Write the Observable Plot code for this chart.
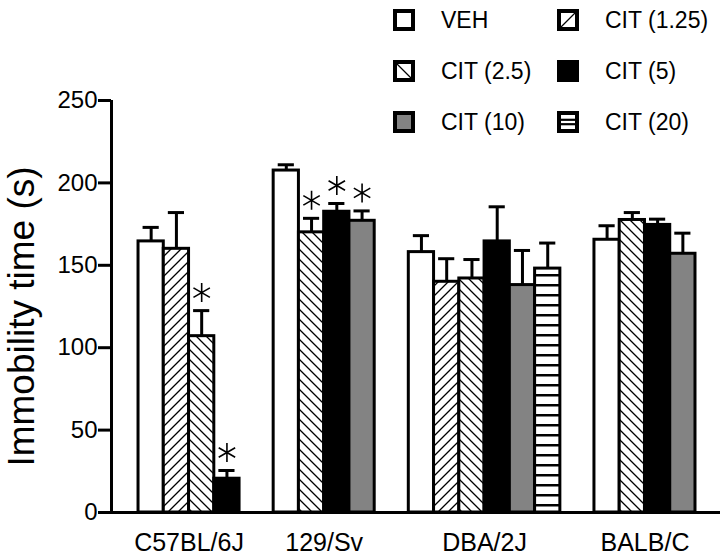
<!DOCTYPE html>
<html><head><meta charset="utf-8">
<script src="https://cdn.jsdelivr.net/npm/d3@7"></script>
<script src="https://cdn.jsdelivr.net/npm/@observablehq/plot@0.6"></script>
<style>
body{margin:0;background:#fff;font-family:"Liberation Sans",Arial,Helvetica,sans-serif;}
#wrap{position:relative;width:720px;height:558px;}
#legend{position:absolute;left:393px;top:9px;display:grid;grid-template-columns:164px 150px;grid-auto-rows:51px;}
.item{display:flex;align-items:center;height:22px;}
.item svg{flex:none;display:block}
.item span{margin-left:26px;font-size:23px;line-height:22px;color:#000;white-space:nowrap;}
</style></head><body>
<svg width="0" height="0" style="position:absolute">
<defs>
<pattern id="hatchUp" patternUnits="userSpaceOnUse" width="10" height="10">
<rect width="10" height="10" fill="#fff"/>
<path d="M-1,1 L1,-1 M0,10 L10,0 M9,11 L11,9" stroke="#000" stroke-width="1.3"/>
</pattern>
<pattern id="hatchDown" patternUnits="userSpaceOnUse" width="10" height="10">
<rect width="10" height="10" fill="#fff"/>
<path d="M-1,9 L1,11 M0,0 L10,10 M9,-1 L11,1" stroke="#000" stroke-width="1.3"/>
</pattern>
<pattern id="hLines" patternUnits="userSpaceOnUse" width="10" height="10">
<rect width="10" height="10" fill="#fff"/>
<rect y="4" width="10" height="2.5" fill="#000"/>
</pattern>
</defs>
</svg>
<div id="wrap"><div id="chart"></div><div id="legend"></div></div>
<script>
// ---- data ----
const groups = ["C57BL/6J", "129/Sv", "DBA/2J", "BALB/C"];
const doses = ["VEH", "CIT (1.25)", "CIT (2.5)", "CIT (5)", "CIT (10)", "CIT (20)"];
const barGroup = [0, 0, 0, 0, 1, 1, 1, 1, 2, 2, 2, 2, 2, 2, 3, 3, 3, 3];
const barDose  = [0, 1, 2, 3, 0, 2, 3, 4, 0, 1, 2, 3, 4, 5, 0, 2, 3, 4];
const means = [164.5, 160, 107, 20.5, 207.5, 170, 182.5, 177, 158, 140, 142, 164.5, 138, 148, 165.5, 177.5, 174.5, 157];
const sems  = [8.5, 22, 15.5, 5, 3.5, 8.5, 5, 6, 10, 14, 11.5, 21, 21, 15.5, 8.5, 4.5, 3.5, 12.5];
const significant = [0, 0, 1, 1, 0, 1, 1, 1, 0, 0, 0, 0, 0, 0, 0, 0, 0, 0];
const yTicks = [0, 50, 100, 150, 200, 250];

// ---- styles ----
const doseFill = ["#fff", "url(#hatchUp)", "url(#hatchDown)", "#000", "#838383", "url(#hLines)"];
const GAP = 1.35;      // gap between groups, in bar widths
const CAP = 0.32;      // half cap width, in bar widths

const bars = means.map((m, i) => ({
  group: groups[barGroup[i]],
  dose: doses[barDose[i]],
  fill: doseFill[barDose[i]],
  mean: m,
  sem: sems[i],
  sig: significant[i] === 1,
  x1: i + barGroup[i] * GAP
}));
const xEnd = d3.max(bars, d => d.x1 + 1);
const groupRows = groups.map(g => {
  const b = bars.filter(d => d.group === g);
  return {group: g, center: (d3.min(b, d => d.x1) + d3.max(b, d => d.x1 + 1)) / 2};
});

const chart = Plot.plot({
  width: 720, height: 558,
  marginLeft: 111, marginRight: 0, marginTop: 100, marginBottom: 46,
  x: {type: "linear", domain: [-1.07, xEnd + 0.99], axis: null},
  y: {domain: [0, 250], axis: null},
  color: {type: "identity"},
  style: {fontFamily: "'Liberation Sans', Arial, Helvetica, sans-serif", background: "white", color: "black"},
  marks: [
    Plot.rect(bars, {x1: "x1", x2: d => d.x1 + 1, y1: 0, y2: "mean", fill: "fill", stroke: "black", strokeWidth: 3}),
    Plot.ruleX(bars, {x: d => d.x1 + 0.5, y1: "mean", y2: d => d.mean + d.sem, stroke: "black", strokeWidth: 3}),
    Plot.ruleY(bars, {y: d => d.mean + d.sem, x1: d => d.x1 + 0.5 - CAP, x2: d => d.x1 + 0.5 + CAP, stroke: "black", strokeWidth: 3}),
    Plot.dot(bars.filter(d => d.sig), {x: d => d.x1 + 0.5, y: d => d.mean + d.sem, dy: -18, symbol: "asterisk", r: 9, stroke: "black", strokeWidth: 1.6}),
    Plot.ruleY([0], {stroke: "black", strokeWidth: 3}),
    Plot.ruleX([-1.07], {y1: 0, y2: 250, stroke: "black", strokeWidth: 3}),
    Plot.axisY(yTicks, {tickSize: 13, tickPadding: 1, fontSize: 24, strokeWidth: 3, label: null}),
    Plot.text(groupRows, {x: "center", y: 0, text: "group", dy: 21, lineAnchor: "top", fontSize: 25}),
    Plot.text(["Immobility time (s)"], {frameAnchor: "left", textAnchor: "middle", lineAnchor: "middle", rotate: -90, dx: -89, dy: 10, fontSize: 37})
  ]
});
document.getElementById("chart").appendChild(chart);

// ---- legend ----
function swatch(i) {
  const inner = [
    '',
    '<line x1="4" y1="18" x2="18" y2="4" stroke="#000" stroke-width="1.2"/>',
    '<line x1="4" y1="4" x2="18" y2="18" stroke="#000" stroke-width="1.2"/>',
    '', '',
    '<line x1="3" y1="8.8" x2="19" y2="8.8" stroke="#000" stroke-width="2.2"/><line x1="3" y1="13.2" x2="19" y2="13.2" stroke="#000" stroke-width="2.2"/>'
  ][i];
  const f = i === 3 ? "#000" : i === 4 ? "#838383" : "#fff";
  return `<svg width="22" height="22"><rect x="2" y="2" width="18" height="18" fill="${f}" stroke="#000" stroke-width="4"/>${inner}</svg>`;
}
const legend = document.getElementById("legend");
doses.forEach((d, i) => {
  const el = document.createElement("div");
  el.className = "item";
  el.innerHTML = swatch(i) + `<span>${d}</span>`;
  legend.appendChild(el);
});
</script>
</body></html>
